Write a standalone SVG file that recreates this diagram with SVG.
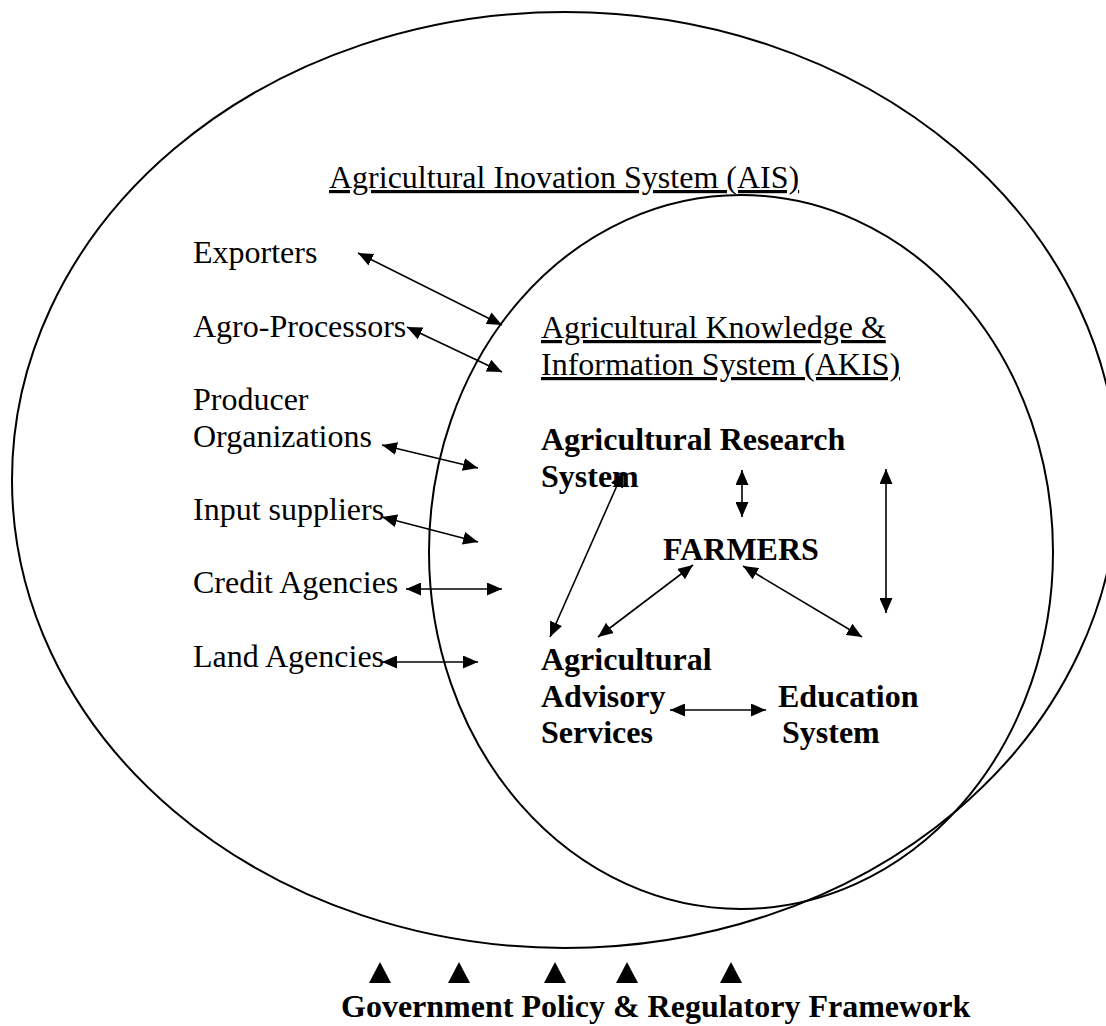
<svg xmlns="http://www.w3.org/2000/svg" width="1106" height="1026" viewBox="0 0 1106 1026">
  <style>
    .ring { fill: none; stroke: #000; stroke-width: 2; }
    .lbl { font-family: "Liberation Serif", "Times New Roman", serif; font-size: 32px; fill: #000; }
    .b { font-weight: bold; }
    .u { text-decoration: underline; }
    .link { stroke: #000; stroke-width: 1.6; fill: none; marker-start: url(#head); marker-end: url(#head); }
    .tri { fill: #000; }
  </style>
  <defs>
    <marker id="head" viewBox="0 0 15 13" refX="15" refY="6.5" markerWidth="15" markerHeight="13" markerUnits="userSpaceOnUse" orient="auto-start-reverse">
      <path d="M0,0 L15,6.5 L0,13 z" fill="#000"/>
    </marker>
  </defs>
  <rect width="1106" height="1026" fill="#fff"/>

  <!-- Outer system boundary -->
  <g id="ais">
    <ellipse class="ring" cx="565" cy="480" rx="553" ry="468"/>
    <text class="lbl u" x="329" y="188">Agricultural Inovation System (AIS)</text>
  </g>

  <!-- Inner system boundary -->
  <g id="akis">
    <ellipse class="ring" cx="741" cy="552" rx="312" ry="357"/>
    <text class="lbl u" x="541" y="338">Agricultural Knowledge &amp;</text>
    <text class="lbl u" x="541" y="375">Information System (AKIS)</text>
  </g>

  <!-- Actors outside the knowledge system -->
  <g id="exporters"><text class="lbl" x="193" y="263">Exporters</text></g>
  <g id="agro-processors"><text class="lbl" x="193" y="337">Agro-Processors</text></g>
  <g id="producer-organizations">
    <text class="lbl" x="193" y="410">Producer</text>
    <text class="lbl" x="193" y="447">Organizations</text>
  </g>
  <g id="input-suppliers"><text class="lbl" x="193" y="520">Input suppliers</text></g>
  <g id="credit-agencies"><text class="lbl" x="193" y="593">Credit Agencies</text></g>
  <g id="land-agencies"><text class="lbl" x="193" y="667">Land Agencies</text></g>

  <!-- Core actors -->
  <g id="research">
    <text class="lbl b" x="541" y="450">Agricultural Research</text>
    <text class="lbl b" x="541" y="487">System</text>
  </g>
  <g id="farmers"><text class="lbl b" x="663" y="560">FARMERS</text></g>
  <g id="advisory">
    <text class="lbl b" x="541" y="670">Agricultural</text>
    <text class="lbl b" x="541" y="707">Advisory</text>
    <text class="lbl b" x="541" y="743">Services</text>
  </g>
  <g id="education">
    <text class="lbl b" x="778" y="707">Education</text>
    <text class="lbl b" x="782" y="743">System</text>
  </g>

  <!-- Policy framework -->
  <g id="policy">
    <polygon class="tri" points="369,983 391,983 380,962"/>
    <polygon class="tri" points="448,983 470,983 459,962"/>
    <polygon class="tri" points="544,983 566,983 555,962"/>
    <polygon class="tri" points="616,983 638,983 627,962"/>
    <polygon class="tri" points="720,983 742,983 731,962"/>
    <text class="lbl b" x="341" y="1017">Government Policy &amp; Regulatory Framework</text>
  </g>

  <!-- Two-way links -->
  <g id="connectors">
    <line class="link" x1="358" y1="253" x2="502" y2="325"/>
    <line class="link" x1="407" y1="327" x2="502" y2="372"/>
    <line class="link" x1="382" y1="445" x2="478" y2="468"/>
    <line class="link" x1="382" y1="517" x2="478" y2="542"/>
    <line class="link" x1="406" y1="589" x2="502" y2="589"/>
    <line class="link" x1="382" y1="662" x2="478" y2="662"/>
    <line class="link" x1="623" y1="472" x2="550" y2="637"/>
    <line class="link" x1="742" y1="470" x2="742" y2="517"/>
    <line class="link" x1="886" y1="469" x2="886" y2="613"/>
    <line class="link" x1="693" y1="565" x2="598" y2="637"/>
    <line class="link" x1="743" y1="566" x2="862" y2="637"/>
    <line class="link" x1="670" y1="710" x2="766" y2="710"/>
  </g>
</svg>
